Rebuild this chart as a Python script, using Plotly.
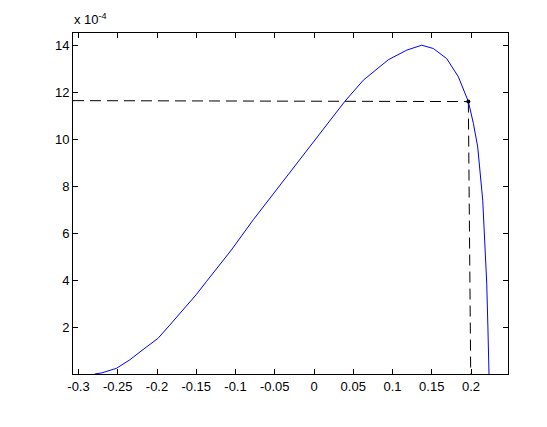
import plotly.graph_objects as go

# Curve data (y in units of 1e-4)
curve_x = [-0.2794, -0.2700, -0.2518, -0.2348, -0.2178, -0.1987, -0.1838, -0.1669,
           -0.1500, -0.1372, -0.1201, -0.1053, -0.0773, -0.0560, -0.0306, -0.0051,
           0.0098, 0.0162, 0.0395, 0.0628, 0.0946, 0.1181, 0.1372, 0.1520, 0.1690,
           0.1838, 0.1966, 0.2030, 0.2085, 0.2149, 0.2178, 0.2200, 0.2215, 0.2229]
curve_y = [0.00, 0.05, 0.24, 0.60, 1.04, 1.52, 2.08, 2.74,
           3.38, 3.93, 4.64, 5.28, 6.57, 7.50, 8.61, 9.72,
           10.37, 10.64, 11.62, 12.51, 13.38, 13.79, 14.00, 13.86, 13.43,
           12.66, 11.60, 10.67, 9.67, 7.40, 5.70, 3.87, 2.00, 0.00]

# Marked point and guide lines
point_x = [0.1966]
point_y = [11.60]
hguide_x = [-0.307, 0.1966]
hguide_y = [11.64, 11.60]
vguide_x = [0.1966, 0.1996]
vguide_y = [11.60, 0.0]

scale = 1e-4
x_ticks = [-0.3, -0.25, -0.2, -0.15, -0.1, -0.05, 0, 0.05, 0.1, 0.15, 0.2]
x_tick_labels = ["-0.3", "-0.25", "-0.2", "-0.15", "-0.1", "-0.05", "0", "0.05", "0.1", "0.15", "0.2"]
y_ticks = [2, 4, 6, 8, 10, 12, 14]
y_tick_labels = ["2", "4", "6", "8", "10", "12", "14"]

fig = go.Figure()
fig.add_trace(go.Scatter(x=hguide_x, y=[v * scale for v in hguide_y], mode="lines",
                         line=dict(color="black", width=1, dash="11px,6px"), hoverinfo="skip"))
fig.add_trace(go.Scatter(x=vguide_x, y=[v * scale for v in vguide_y], mode="lines",
                         line=dict(color="black", width=1, dash="11px,6px"), hoverinfo="skip"))
fig.add_trace(go.Scatter(x=curve_x, y=[v * scale for v in curve_y], mode="lines",
                         line=dict(color="#0000ff", width=1)))
fig.add_trace(go.Scatter(x=point_x, y=[v * scale for v in point_y], mode="markers",
                         marker=dict(color="black", size=4)))

axis_common = dict(showline=True, linecolor="black", linewidth=1, mirror="ticks",
                   ticks="inside", ticklen=5, tickcolor="black", showgrid=False,
                   zeroline=False, tickfont=dict(family="Liberation Sans, Arial", size=13, color="black"))

fig.update_layout(
    width=539, height=419,
    margin=dict(l=65, r=39, t=25, b=53),
    paper_bgcolor="white", plot_bgcolor="white",
    showlegend=False,
    xaxis=dict(range=[-0.307, 0.2471], tickvals=x_ticks, ticktext=x_tick_labels, **axis_common),
    yaxis=dict(range=[0, 14.52 * scale], tickvals=[v * scale for v in y_ticks],
               ticktext=y_tick_labels, **axis_common),
    annotations=[dict(x=0, y=1, xref="paper", yref="paper", xanchor="left", yanchor="bottom",
                      yshift=4, xshift=-1, showarrow=False,
                      text="x 10<sup>-4</sup>",
                      font=dict(family="Liberation Sans, Arial", size=13, color="black"))],
)

fig.write_html("out.html")
